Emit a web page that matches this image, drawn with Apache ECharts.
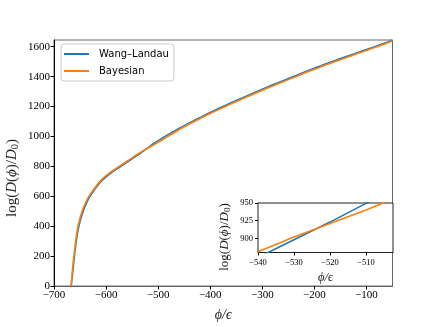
<!DOCTYPE html>
<html>
<head>
<meta charset="utf-8">
<script src="https://cdn.jsdelivr.net/npm/echarts@6/dist/echarts.min.js"></script>
<style>
  html, body { margin: 0; padding: 0; background: #fff; }
  #main { width: 437px; height: 327px; }
</style>
</head>
<body>
<div id="main"></div>
<script>
// phi / epsilon
const phi = [-667, -666, -665, -664, -663, -662, -660, -657, -654, -650, -645, -640, -635, -630, -620, -610, -600,
  -590, -580, -570, -560, -550, -540, -530, -520, -510, -500, -490, -480, -460, -440, -420, -400,
  -380, -360, -340, -320, -300, -280, -260, -240, -220, -200, -180, -160, -140, -120, -100, -80, -60, -50];
// log(D(phi)/D0)
const wangLandau = [0, 35, 65, 95, 128, 160, 225, 305, 370, 432, 490, 535, 574, 604, 655, 697, 730,
  757, 781, 804, 827, 850, 873, 898, 923, 949.5, 972, 993, 1014, 1054, 1091, 1126, 1160,
  1193, 1225, 1256, 1286, 1316, 1345, 1373, 1401, 1429, 1456, 1483, 1508, 1533, 1557, 1581, 1605, 1630, 1645];
const bayesian = [0, 50, 90, 130, 163, 195, 255, 335, 398, 455, 510, 552, 588, 616, 664, 706, 738,
  764, 788, 811, 834, 857, 881, 902, 921, 940, 961, 982, 1003, 1045, 1083, 1119, 1153,
  1186, 1218, 1249, 1279, 1309, 1338, 1366, 1394, 1422, 1449, 1476, 1501, 1526, 1551, 1575, 1600, 1625, 1641];

const xTicks = [-700, -600, -500, -400, -300, -200, -100];
const yTicks = [0, 200, 400, 600, 800, 1000, 1200, 1400, 1600];
const insetXTicks = [-540, -530, -520, -510];
const insetYTicks = [900, 925, 950];

const colors = ['#1f77b4', '#ff7f0e'];
const serif = 'Liberation Serif';
const minus = v => String(v).replace('-', '\u2212');
const pairs = ys => phi.map((x, i) => [x, ys[i]]);

// 纵轴标题 log(D(ϕ)/D0)，D 和 ϕ 用斜体，用 graphic 画以便自由定位
function logLabel(x, y, size) {
  return {
    type: 'text', x: x, y: y, rotation: Math.PI / 2, z: 20,
    style: {
      text: '{r|log(}{i|D}{r|(}{i|ϕ}{r|)/}{i|D}{s|0}{r|)}',
      align: 'center', verticalAlign: 'middle',
      rich: {
        r: { fontFamily: serif, fontSize: size, fill: '#222' },
        i: { fontFamily: serif, fontSize: size, fontStyle: 'italic', fill: '#222' },
        s: { fontFamily: serif, fontSize: size * 0.7, fill: '#222', padding: [size * 0.45, 0, 0, 0] }
      }
    }
  };
}

function valueAxis(opts) {
  return Object.assign({
    type: 'value',
    splitLine: { show: false },
    axisLine: { show: true, onZero: false, lineStyle: { color: '#000', width: 1 } },
    nameLocation: 'middle'
  }, opts);
}

// 主图曲线略做平滑，插图里用直线段
function curve(name, ys, idx, color, z) {
  return {
    name: name, type: 'line', xAxisIndex: idx, yAxisIndex: idx, data: pairs(ys),
    showSymbol: false, color: color, lineStyle: { width: 1.6 },
    smooth: idx === 0 ? 0.25 : false, clip: true, z: z
  };
}

var myChart = echarts.init(document.getElementById('main'), null, { renderer: 'canvas' });

var option = {
  animation: false,
  backgroundColor: '#fff',
  grid: [
    { left: 54, top: 40, width: 338.5, height: 251, show: true, borderColor: '#666', borderWidth: 1 },
    { left: 258, top: 203, width: 135, height: 49.5, show: true, backgroundColor: '#fff', borderColor: '#222', borderWidth: 1, z: 5 }
  ],
  legend: {
    data: ['Wang–Landau', 'Bayesian'],
    orient: 'vertical',
    left: 61, top: 44,
    icon: 'rect', itemWidth: 25, itemHeight: 2, itemGap: 7,
    padding: [5, 5, 5, 3],
    borderColor: '#ccc', borderWidth: 1, borderRadius: 3,
    backgroundColor: '#fff',
    textStyle: { fontFamily: 'DejaVu Sans', fontSize: 10, color: '#000', padding: [0, 0, 0, 5] }
  },
  graphic: [
    logLabel(12, 178, 15),
    logLabel(225, 237, 13)
  ],
  xAxis: [
    valueAxis({
      gridIndex: 0, min: -700, max: -50,
      axisLine: { show: true, onZero: false, lineStyle: { color: '#666', width: 1 } },
      axisTick: { show: true, length: 3.5, customValues: xTicks, lineStyle: { color: '#000' } },
      axisLabel: { fontFamily: serif, fontSize: 11, color: '#000', margin: 4, formatter: minus, customValues: xTicks },
      name: 'ϕ/ϵ', nameGap: 22,
      nameTextStyle: { fontFamily: serif, fontSize: 14, fontStyle: 'italic', color: '#222' }
    }),
    valueAxis({
      gridIndex: 1, min: -540, max: -502.5,
      axisTick: { show: true, length: 3, customValues: insetXTicks, lineStyle: { color: '#000' } },
      axisLabel: { fontFamily: serif, fontSize: 8.5, color: '#000', margin: 6, formatter: minus, customValues: insetXTicks },
      name: 'ϕ/ϵ', nameGap: 19,
      nameTextStyle: { fontFamily: serif, fontSize: 12.5, fontStyle: 'italic', color: '#222' }
    })
  ],
  yAxis: [
    valueAxis({
      gridIndex: 0, min: 0, max: 1645,
      axisTick: { show: true, length: 3.5, customValues: yTicks, lineStyle: { color: '#000' } },
      axisLabel: { fontFamily: serif, fontSize: 11, color: '#000', margin: 4, formatter: minus, customValues: yTicks }
    }),
    valueAxis({
      gridIndex: 1, min: 880, max: 950,
      axisTick: { show: true, length: 3, customValues: insetYTicks, lineStyle: { color: '#000' } },
      axisLabel: { fontFamily: serif, fontSize: 8.5, color: '#000', margin: 5, formatter: minus, customValues: insetYTicks }
    })
  ],
  series: [
    curve('Wang–Landau', wangLandau, 0, colors[0], 2),
    curve('Bayesian', bayesian, 0, colors[1], 3),
    // inset
    curve('Wang–Landau', wangLandau, 1, colors[0], 6),
    curve('Bayesian', bayesian, 1, colors[1], 7)
  ]
};

myChart.setOption(option);
</script>
</body>
</html>
